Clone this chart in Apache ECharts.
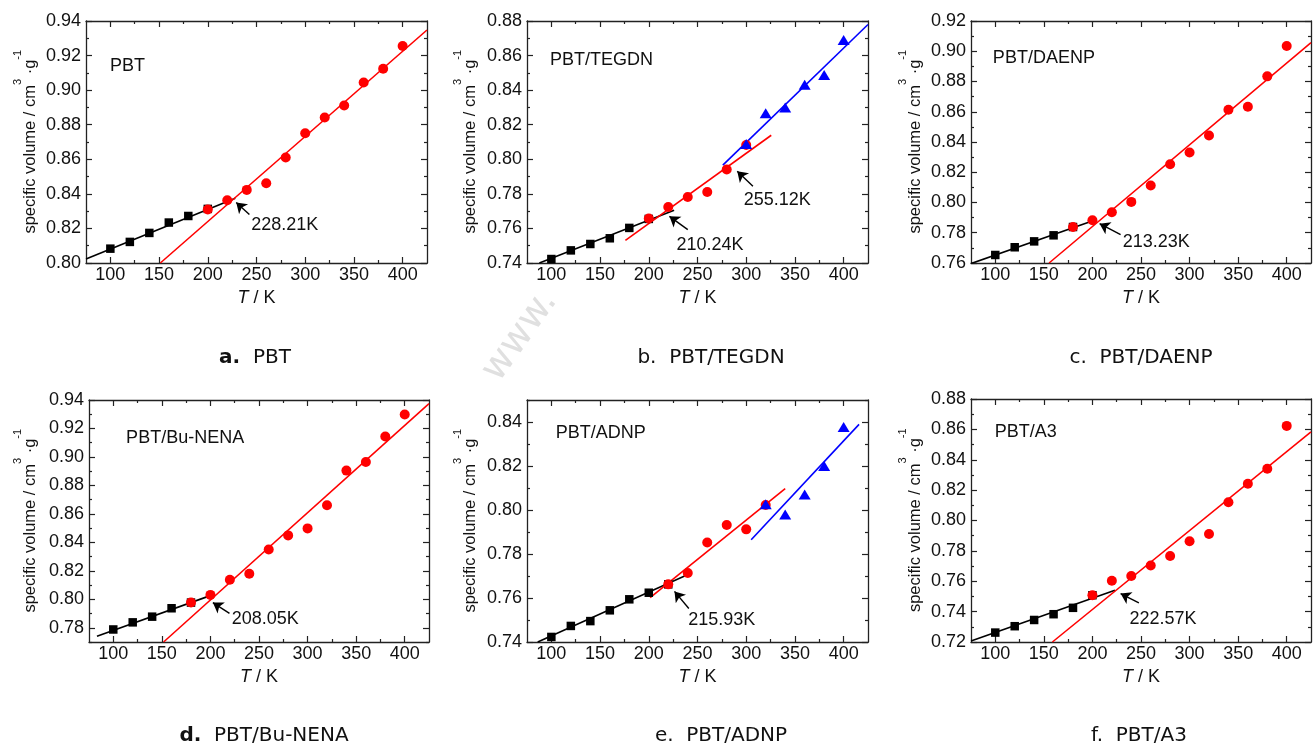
<!DOCTYPE html>
<html><head><meta charset="utf-8">
<script src="https://cdn.jsdelivr.net/npm/echarts@6/dist/echarts.min.js"></script>
<style>html,body{margin:0;padding:0;background:#fff}#c{width:1314px;height:747px}</style>
</head><body><div id="c"></div>
<script>
// ---------- shared axis values ----------
const xRange = [75, 425];
const xMajorTicks = [100, 150, 200, 250, 300, 350, 400];
const xMinorTicks = [125, 175, 225, 275, 325, 375];

// ---------- a. PBT ----------
const aYRange = [0.80, 0.94];
const aYMajor = [0.80, 0.82, 0.84, 0.86, 0.88, 0.90, 0.92, 0.94];
const aYMinor = [0.81, 0.83, 0.85, 0.87, 0.89, 0.91, 0.93];
const aSquares = [[100,0.8083],[120,0.8122],[140,0.8174],[160,0.8234],[180,0.8272],[200,0.8313]];
const aCircles = [[200,0.8309],[220,0.8363],[240,0.8423],[260,0.8461],[280,0.8610],[300,0.8751],[320,0.8842],[340,0.8911],[360,0.9044],[380,0.9124],[400,0.9255]];
const aFitLow = [[75,0.8023],[228.21,0.8374]];
const aFitHigh = [[151.3,0.80],[425,0.9348]];
const aArrows = [[[242.7,0.8280],[229.2,0.8350]]];
const aNotes = [{pos:[244,0.8222], text:'228.21K'}];
const aTitle = {pos:[99,0.9139], text:'PBT'};

// ---------- b. PBT/TEGDN ----------
const bYRange = [0.74, 0.88];
const bYMajor = [0.74, 0.76, 0.78, 0.80, 0.82, 0.84, 0.86, 0.88];
const bYMinor = [0.75, 0.77, 0.79, 0.81, 0.83, 0.85, 0.87];
const bSquares = [[100,0.7423],[120,0.7473],[140,0.7510],[160,0.7543],[180,0.7603],[200,0.7655]];
const bCircles = [[200,0.7657],[220,0.7724],[240,0.7782],[260,0.7811],[280,0.7941],[300,0.8083]];
const bTriangles = [[300,0.8088],[320,0.8267],[340,0.8300],[360,0.8431],[380,0.8487],[400,0.8690]];
const bFitLow = [[87.7,0.74],[226,0.7705]];
const bFitMid = [[176,0.7531],[325.7,0.8139]];
const bFitHigh = [[276,0.7966],[425,0.8780]];
const bArrows = [[[240,0.7593],[221.2,0.7670]], [[306.9,0.7844],[290.8,0.7931]]];
const bNotes = [{pos:[228,0.7506], text:'210.24K'}, {pos:[297,0.7767], text:'255.12K'}];
const bTitle = {pos:[98,0.8572], text:'PBT/TEGDN'};

// ---------- c. PBT/DAENP ----------
const cYRange = [0.76, 0.92];
const cYMajor = [0.76, 0.78, 0.80, 0.82, 0.84, 0.86, 0.88, 0.90, 0.92];
const cYMinor = [0.77, 0.79, 0.81, 0.83, 0.85, 0.87, 0.89, 0.91];
const cSquares = [[100,0.7653],[120,0.7704],[140,0.7743],[160,0.7783],[180,0.7838]];
const cCircles = [[180,0.7838],[200,0.7883],[220,0.7936],[240,0.8004],[260,0.8112],[280,0.8253],[300,0.8331],[320,0.8443],[340,0.8613],[360,0.8633],[380,0.8834],[400,0.9035]];
const cFitLow = [[75,0.7596],[202,0.7883]];
const cFitHigh = [[155.4,0.76],[425,0.9057]];
const cArrows = [[[229,0.7788],[207.4,0.7860]]];
const cNotes = [{pos:[230.7,0.7737], text:'213.23K'}];
const cTitle = {pos:[97,0.8958], text:'PBT/DAENP'};

// ---------- d. PBT/Bu-NENA ----------
const dYRange = [0.77, 0.94];
const dYMajor = [0.78, 0.80, 0.82, 0.84, 0.86, 0.88, 0.90, 0.92, 0.94];
const dYMinor = [0.77, 0.79, 0.81, 0.83, 0.85, 0.87, 0.89, 0.91, 0.93];
const dSquares = [[100,0.7788],[120,0.7838],[140,0.7878],[160,0.7937],[180,0.7977]];
const dCircles = [[180,0.7977],[200,0.8031],[220,0.8137],[240,0.8180],[260,0.8350],[280,0.8449],[300,0.8498],[320,0.8661],[340,0.8904],[360,0.8965],[380,0.9144],[400,0.9298]];
const dFitLow = [[83.2,0.7741],[199.1,0.8024]];
const dFitHigh = [[151.8,0.77],[425,0.9375]];
const dArrows = [[[219.6,0.7901],[202.5,0.7977]]];
const dNotes = [{pos:[221.4,0.7859], text:'208.05K'}];
const dTitle = {pos:[112.7,0.9133], text:'PBT/Bu-NENA'};

// ---------- e. PBT/ADNP ----------
const eYRange = [0.74, 0.85];
const eYMajor = [0.74, 0.76, 0.78, 0.80, 0.82, 0.84];
const eYMinor = [0.75, 0.77, 0.79, 0.81, 0.83, 0.85];
const eSquares = [[100,0.7423],[120,0.7473],[140,0.7495],[160,0.7544],[180,0.7594],[200,0.7624],[220,0.7662]];
const eCircles = [[220,0.7662],[240,0.7714],[260,0.7852],[280,0.7932],[300,0.7912],[320,0.8023]];
const eTriangles = [[320,0.8026],[340,0.7979],[360,0.8070],[380,0.8200],[400,0.8377]];
const eFitLow = [[86,0.74],[244.2,0.7715]];
const eFitMid = [[201.4,0.7602],[340,0.8097]];
const eFitHigh = [[305.1,0.7865],[415.8,0.8389]];
const eArrows = [[[241.1,0.7552],[226.4,0.7630]]];
const eNotes = [{pos:[240,0.7502], text:'215.93K'}];
const eTitle = {pos:[104,0.835], text:'PBT/ADNP'};

// ---------- f. PBT/A3 ----------
const fYRange = [0.72, 0.88];
const fYMajor = [0.72, 0.74, 0.76, 0.78, 0.80, 0.82, 0.84, 0.86, 0.88];
const fYMinor = [0.73, 0.75, 0.77, 0.79, 0.81, 0.83, 0.85, 0.87];
const fSquares = [[100,0.7262],[120,0.7304],[140,0.7345],[160,0.7383],[180,0.7425],[200,0.7508]];
const fCircles = [[200,0.7508],[220,0.7603],[240,0.7634],[260,0.7704],[280,0.7766],[300,0.7863],[320,0.7911],[340,0.8120],[360,0.8242],[380,0.8341],[400,0.8623]];
const fFitLow = [[75,0.7207],[223.2,0.7541]];
const fFitHigh = [[158.8,0.72],[425,0.8583]];
const fArrows = [[[247.8,0.7458],[229,0.7519]]];
const fNotes = [{pos:[237.6,0.7354], text:'222.57K'}];
const fTitle = {pos:[99,0.8581], text:'PBT/A3'};

// ---------- captions ----------
const captionLetters = ['a.', 'b.', 'c.', 'd.', 'e.', 'f.'];
const captionNames = ['PBT', 'PBT/TEGDN', 'PBT/DAENP', 'PBT/Bu-NENA', 'PBT/ADNP', 'PBT/A3'];
const captionBold = [true, false, false, true, false, false];

// ---------- layout (pixels) ----------
const grids = [
  {left:86,  top:21,  width:341, height:242, captionX:255,  captionY:358, nameGap:47},
  {left:527, top:21,  width:341, height:242, captionX:711,  captionY:358, nameGap:48},
  {left:971, top:21,  width:340, height:242, captionX:1141, captionY:358, nameGap:47},
  {left:89,  top:400, width:340, height:242, captionX:264,  captionY:736, nameGap:50},
  {left:527, top:400, width:341, height:242, captionX:721,  captionY:736, nameGap:48},
  {left:971, top:399, width:340, height:243, captionX:1139, captionY:736, nameGap:47}
];

const panels = [
  {yRange:aYRange, yMajor:aYMajor, yMinor:aYMinor, squares:aSquares, circles:aCircles, triangles:null, fits:[[aFitLow,'#000'],[aFitHigh,'#ff0000']], arrows:aArrows, notes:aNotes, title:aTitle},
  {yRange:bYRange, yMajor:bYMajor, yMinor:bYMinor, squares:bSquares, circles:bCircles, triangles:bTriangles, fits:[[bFitLow,'#000'],[bFitMid,'#ff0000'],[bFitHigh,'#0000ff']], arrows:bArrows, notes:bNotes, title:bTitle},
  {yRange:cYRange, yMajor:cYMajor, yMinor:cYMinor, squares:cSquares, circles:cCircles, triangles:null, fits:[[cFitLow,'#000'],[cFitHigh,'#ff0000']], arrows:cArrows, notes:cNotes, title:cTitle},
  {yRange:dYRange, yMajor:dYMajor, yMinor:dYMinor, squares:dSquares, circles:dCircles, triangles:null, fits:[[dFitLow,'#000'],[dFitHigh,'#ff0000']], arrows:dArrows, notes:dNotes, title:dTitle},
  {yRange:eYRange, yMajor:eYMajor, yMinor:eYMinor, squares:eSquares, circles:eCircles, triangles:eTriangles, fits:[[eFitLow,'#000'],[eFitMid,'#ff0000'],[eFitHigh,'#0000ff']], arrows:eArrows, notes:eNotes, title:eTitle},
  {yRange:fYRange, yMajor:fYMajor, yMinor:fYMinor, squares:fSquares, circles:fCircles, triangles:null, fits:[[fFitLow,'#000'],[fFitHigh,'#ff0000']], arrows:fArrows, notes:fNotes, title:fTitle}
];

const AX = '#222';
const SANS = "'Liberation Sans', Arial, sans-serif";

function axisDef(dim, grid, pos, range, ticks, len, showLine, labelTicks, extra) {
  const a = {
    type: 'value', gridIndex: grid, position: pos, min: range[0], max: range[1],
    axisLine: {show: showLine, onZero: false, lineStyle: {color: AX, width: 1.3}},
    axisTick: {show: true, inside: true, length: len, customValues: ticks, lineStyle: {color: AX, width: 1.2}},
    axisLabel: labelTicks ? {show: true, customValues: labelTicks, color: '#111', fontFamily: SANS, fontSize: 18,
      margin: dim === 'x' ? 3 : 5, formatter: dim === 'x' ? (v => String(v)) : (v => v.toFixed(2))} : {show: false},
    splitLine: {show: false}, minorTick: {show: false}
  };
  return Object.assign(a, extra || {});
}

const xAxes = [], yAxes = [], series = [], gridOpts = [], graphics = [];

panels.forEach((p, i) => {
  const g = grids[i];
  gridOpts.push({left: g.left, top: g.top, width: g.width, height: g.height, containLabel: false});
  const xi = xAxes.length, yi = yAxes.length;
  xAxes.push(axisDef('x', i, 'bottom', xRange, xMajorTicks, 6, true, xMajorTicks, {
    name: '{i|T}{n| / K}', nameLocation: 'middle', nameGap: 26,
    nameTextStyle: {color: '#111', rich: {i: {fontStyle: 'italic', fontFamily: SANS, fontSize: 18, color: '#111'}, n: {fontFamily: SANS, fontSize: 18, color: '#111'}}}
  }));
  xAxes.push(axisDef('x', i, 'bottom', xRange, xMinorTicks, 3, false, null));
  xAxes.push(axisDef('x', i, 'top', xRange, xMajorTicks, 6, true, null));
  xAxes.push(axisDef('x', i, 'top', xRange, xMinorTicks, 3, false, null));

  yAxes.push(axisDef('y', i, 'left', p.yRange, p.yMajor, 6, true, p.yMajor, {
    name: '{sp| }{m|specific volume / cm}{s|3}{m| ·g}{s|-1}', nameLocation: 'middle', nameGap: g.nameGap, nameRotate: 90,
    nameTextStyle: {color: '#111', rich: {
      sp: {fontSize: 2, lineHeight: 27},
      m: {fontFamily: SANS, fontSize: 16.5, lineHeight: 16, verticalAlign: 'bottom', color: '#111'},
      s: {fontFamily: SANS, fontSize: 11, lineHeight: 11, verticalAlign: 'top', color: '#111'}
    }}
  }));
  yAxes.push(axisDef('y', i, 'left', p.yRange, p.yMinor, 3, false, null));
  yAxes.push(axisDef('y', i, 'right', p.yRange, p.yMajor, 6, true, null));
  yAxes.push(axisDef('y', i, 'right', p.yRange, p.yMinor, 3, false, null));

  const base = {xAxisIndex: xi, yAxisIndex: yi, animation: false, silent: true};
  p.fits.forEach(([d, col]) => {
    series.push(Object.assign({type: 'line', data: d, symbol: 'none', z: 2,
      lineStyle: {color: col, width: 1.6}}, base));
  });
  series.push(Object.assign({type: 'scatter', data: p.squares, symbol: 'rect', symbolSize: 8.5, z: 3,
    itemStyle: {color: '#000', opacity: 1}}, base));
  series.push(Object.assign({type: 'scatter', data: p.circles, symbol: 'circle', symbolSize: 10, z: 4,
    itemStyle: {color: '#ff0000', opacity: 1}}, base));
  if (p.triangles) {
    series.push(Object.assign({type: 'scatter', data: p.triangles, symbol: 'triangle', symbolSize: [12, 10], z: 5,
      itemStyle: {color: '#0000ff', opacity: 1}}, base));
  }
  series.push(Object.assign({type: 'lines', coordinateSystem: 'cartesian2d', z: 6,
    symbol: ['none', 'arrow'], symbolSize: [0, 10],
    lineStyle: {color: '#000', width: 1.4, opacity: 1},
    data: p.arrows.map(c => ({coords: c}))}, base));
  const noteData = p.notes.map(n => ({value: n.pos, name: n.text}));
  noteData.push({value: p.title.pos, name: p.title.text});
  series.push(Object.assign({type: 'scatter', data: noteData, symbol: 'circle', symbolSize: 1, z: 7,
    itemStyle: {color: 'rgba(255,255,255,0)', opacity: 1},
    label: {show: true, position: 'right', distance: 0, formatter: q => q.name, opacity: 1,
      color: '#111', fontFamily: SANS, fontSize: 18}}, base));

  graphics.push({type: 'text', x: g.captionX, y: g.captionY, z: 10,
    style: {text: '{l|' + captionLetters[i] + '}  ' + captionNames[i],
      font: "20px 'DejaVu Sans', sans-serif", fill: '#111', align: 'center', verticalAlign: 'middle',
      rich: {l: {fontFamily: 'DejaVu Sans', fontSize: 20, fontWeight: captionBold[i] ? 'bold' : 'normal', fill: '#111'}}}});
});

// faint watermark of the source image
graphics.push({type: 'text', x: 520, y: 336, rotation: 0.95, z: -1,
  style: {text: 'www.', font: "38px 'DejaVu Sans', sans-serif", fill: '#e0e0e0', align: 'center', verticalAlign: 'middle'}});

const chart = echarts.init(document.getElementById('c'), null, {renderer: 'canvas'});
chart.setOption({
  backgroundColor: '#fff',
  animation: false,
  grid: gridOpts,
  xAxis: xAxes,
  yAxis: yAxes,
  series: series,
  graphic: graphics
});
</script></body></html>
